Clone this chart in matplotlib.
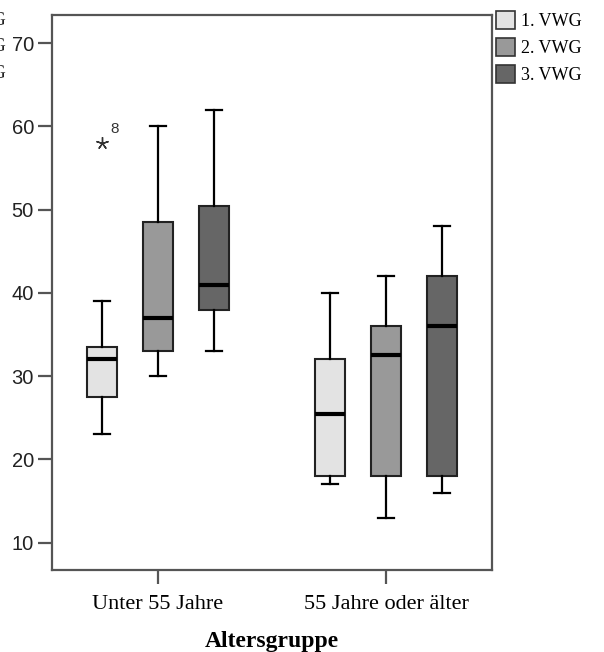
import numpy as np
import matplotlib
matplotlib.use("Agg")
import matplotlib.pyplot as plt
from matplotlib.patches import Patch

groups = ["Unter 55 Jahre", "55 Jahre oder älter"]
series = ["1. VWG", "2. VWG", "3. VWG"]
colors = ["#e3e3e3", "#999999", "#666666"]

# per series: values for [Unter 55, 55 oder älter]
whislo = [[23, 17], [30, 13], [33, 16]]
q1 = [[27.5, 18], [33, 18], [38, 18]]
med = [[32, 25.5], [37, 32.5], [41, 36]]
q3 = [[33.5, 32], [48.5, 36], [50.5, 42]]
whishi = [[39, 40], [60, 42], [62, 48]]
fliers = [[[58], []], [[], []], [[], []]]
flier_labels = [[["8"], []], [[], []], [[], []]]

fig = plt.figure(figsize=(6.04, 6.52), dpi=100)
ax = fig.add_axes([0.0861, 0.1258, 0.7285, 0.8512])

serif = ["Liberation Serif", "DejaVu Serif"]
sans = ["Liberation Sans", "DejaVu Sans"]
edge = "#222222"
offsets = [-0.245, 0.0, 0.245]

for s in range(len(series)):
    stats = []
    for g in range(len(groups)):
        stats.append(dict(whislo=whislo[s][g], q1=q1[s][g], med=med[s][g],
                          q3=q3[s][g], whishi=whishi[s][g], fliers=fliers[s][g]))
    pos = [g + offsets[s] for g in range(len(groups))]
    ax.bxp(stats, positions=pos, widths=0.13, patch_artist=True, showfliers=True,
           boxprops=dict(facecolor=colors[s], edgecolor=edge, linewidth=1.5),
           medianprops=dict(color="black", linewidth=3),
           whiskerprops=dict(color="black", linewidth=1.6),
           capprops=dict(color="black", linewidth=1.6),
           capwidths=0.07,
           flierprops=dict(marker=(5, 2, 0), markersize=9, markeredgecolor="#333333",
                           markeredgewidth=1.0, linestyle="none"))
    for g in range(len(groups)):
        for v, lab in zip(fliers[s][g], flier_labels[s][g]):
            ax.annotate(lab, (pos[g], v), xytext=(6, 5), textcoords="offset points",
                        fontsize=11, family=sans, color="#333333", va="bottom")

ax.set_xlim(-0.465, 1.465)
ax.set_ylim(6.7, 73.4)
ax.set_yticks([10, 20, 30, 40, 50, 60, 70])
ax.set_xticks(range(len(groups)))
ax.set_xticklabels(groups, fontsize=16, family=serif)
for lab in ax.get_yticklabels():
    lab.set_family(sans)
    lab.set_fontsize(14.5)
    lab.set_color("#222222")
ax.tick_params(axis="both", direction="out", length=10, width=1.6, color="#555555", pad=3)
ax.tick_params(axis="x", pad=8)
for sp in ax.spines.values():
    sp.set_color("#555555")
    sp.set_linewidth(1.6)
ax.set_xlabel("Altersgruppe", fontsize=17, family=serif, fontweight="bold", labelpad=12)

handles = [Patch(facecolor=c, edgecolor="#333333", linewidth=1.2) for c in colors]
fig.legend(handles, series, loc="upper left", bbox_to_anchor=(0.804, 0.999),
           frameon=False, prop=dict(family=serif, size=13), handlelength=1.05,
           handleheight=1.1, handletextpad=0.3, labelspacing=0.45, borderaxespad=0.2)

# cut-off copy of the legend labels at the left edge
for yy in [0.968, 0.928, 0.888]:
    fig.text(0.010, yy, "VWG", ha="right", va="center", fontsize=13.5, family=serif,
             color="#222222")

fig.savefig("out.png", dpi=100)
